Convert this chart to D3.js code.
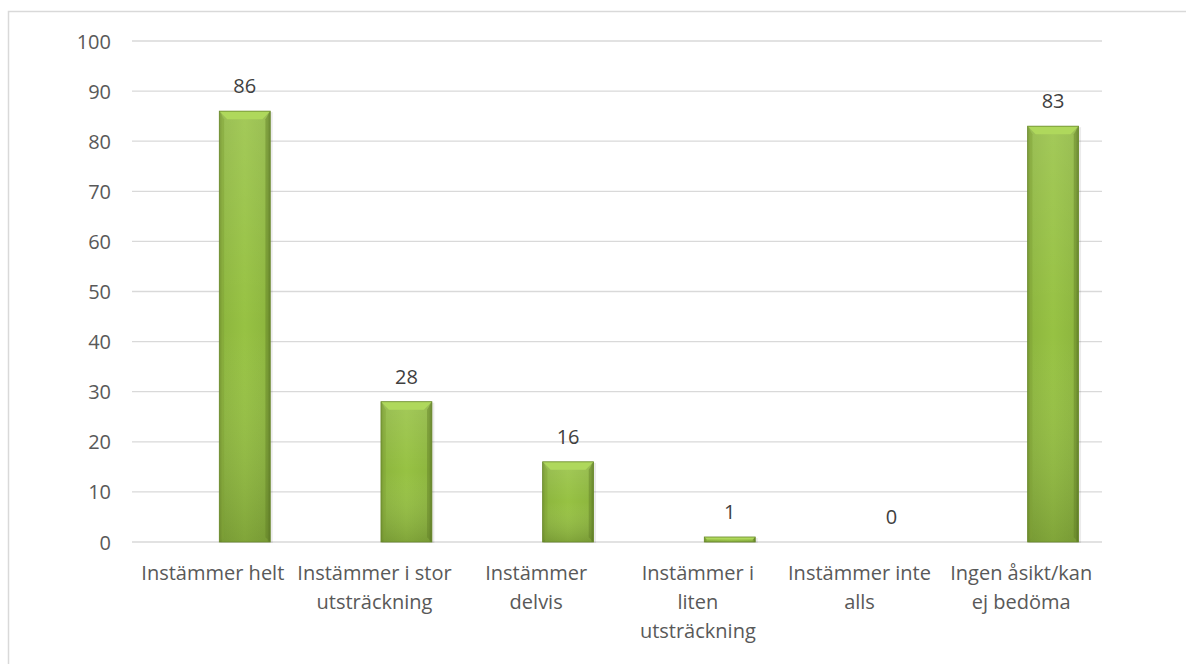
<!DOCTYPE html>
<html><head><meta charset="utf-8">
<script src="https://cdn.jsdelivr.net/npm/d3@7"></script>
<style>body{margin:0;background:#fff;} svg{display:block;}</style>
</head><body>
<svg id="c" width="1186" height="664"></svg>
<script>
const categories = [["Instämmer helt"],["Instämmer i stor","utsträckning"],["Instämmer","delvis"],["Instämmer i","liten","utsträckning"],["Instämmer inte","alls"],["Ingen åsikt/kan","ej bedöma"]];
const catKeys = ["c1","c2","c3","c4","c5","c6"];
const values = [86, 28, 16, 1, 0, 83];
const yTicks = [0,10,20,30,40,50,60,70,80,90,100];

const svg = d3.select("#c");
const font = "'Open Sans', 'Noto Sans', sans-serif";

svg.append("rect").attr("x",8.5).attr("y",11.5).attr("width",1180).attr("height",660)
  .attr("fill","#fff").attr("stroke","#d9d9d9").attr("stroke-width",1.5);

const x = d3.scaleBand().domain(catKeys).range([132,1102]).paddingInner(0).paddingOuter(0);
const y = d3.scaleLinear().domain([0,100]).range([542,41]);

const defs = svg.append("defs");
const gH = defs.append("linearGradient").attr("id","gh").attr("x1","0").attr("x2","1").attr("y1","0").attr("y2","0");
[[0,"#6f8f2e"],[0.06,"#8db63e"],[0.5,"#97c243"],[0.94,"#8db63e"],[1,"#66862a"]].forEach(s=>gH.append("stop").attr("offset",s[0]).attr("stop-color",s[1]));
const gV = defs.append("linearGradient").attr("id","gv").attr("x1","0").attr("x2","0").attr("y1","0").attr("y2","1");
[[0,"#ffffff",0.12],[0.5,"#ffffff",0],[1,"#000000",0.15]].forEach(s=>gV.append("stop").attr("offset",s[0]).attr("stop-color",s[1]).attr("stop-opacity",s[2]));

// gridlines
svg.append("g").selectAll("line").data(yTicks).join("line")
  .attr("x1",132).attr("x2",1102).attr("y1",d=>y(d)).attr("y2",d=>y(d))
  .attr("stroke","#d9d9d9").attr("stroke-width",1.3);

// y labels
const yAxis = d3.axisLeft(y).tickValues(yTicks).tickSize(0).tickPadding(0);
const ya = svg.append("g").attr("transform","translate(111,0)").call(yAxis);
ya.select(".domain").remove();
ya.selectAll("text").attr("font-family",font).attr("font-size",20).attr("fill","#595959").attr("dy","0.35em");

const bw = x.bandwidth()*0.315;
const bx = d => x(catKeys[d.i]) + x.bandwidth()*0.54;

const data = values.map((v,i)=>({v,i}));
const bars = svg.append("g");
data.forEach(d=>{
  if(d.v<=0) return;
  const g = bars.append("g");
  const x0 = bx(d), y0 = y(d.v), h = y(0)-y(d.v);
  g.append("rect").attr("x",x0+1).attr("y",y0+1).attr("width",bw+1.5).attr("height",h).attr("fill","#000").attr("opacity",0.08);
  g.append("rect").attr("x",x0).attr("y",y0).attr("width",bw).attr("height",h).attr("fill","url(#gh)");
  g.append("rect").attr("x",x0).attr("y",y0).attr("width",bw).attr("height",h).attr("fill","url(#gv)");
  const bev = Math.min(8, h/2, bw/4);
  g.append("polygon").attr("points",[[x0,y0],[x0+bw,y0],[x0+bw-bev,y0+bev],[x0+bev,y0+bev]].map(p=>p.join(",")).join(" "))
    .attr("fill","#afd85c");
  g.append("polygon").attr("points",[[x0,y0],[x0+bev*0.6,y0+bev],[x0+bev*0.6,y0+h-bev*0.6],[x0,y0+h]].map(p=>p.join(",")).join(" "))
    .attr("fill","#7e9f36").attr("opacity",0.45);
  g.append("polygon").attr("points",[[x0+bw,y0],[x0+bw-bev*0.6,y0+bev],[x0+bw-bev*0.6,y0+h-bev*0.6],[x0+bw,y0+h]].map(p=>p.join(",")).join(" "))
    .attr("fill","#5f7d25").attr("opacity",0.45);
  g.append("rect").attr("x",x0).attr("y",y0).attr("width",bw).attr("height",h).attr("fill","none").attr("stroke","#6a8a2b").attr("stroke-width",0.8);
});

// value labels
svg.append("g").selectAll("text").data(data).join("text")
  .attr("x",d=>bx(d)+bw/2).attr("y",d=>y(d.v)-18)
  .attr("text-anchor","middle").attr("font-family",font).attr("font-size",20).attr("fill","#404040")
  .text(d=>d.v);

// category labels
const xa = svg.append("g");
categories.forEach((lines,i)=>{
  const t = xa.append("text").attr("text-anchor","middle").attr("font-family",font).attr("font-size",20).attr("fill","#595959");
  lines.forEach((l,j)=>t.append("tspan").attr("x",x(catKeys[i])+x.bandwidth()/2).attr("y",580+j*29).text(l));
});
</script>
</body></html>
